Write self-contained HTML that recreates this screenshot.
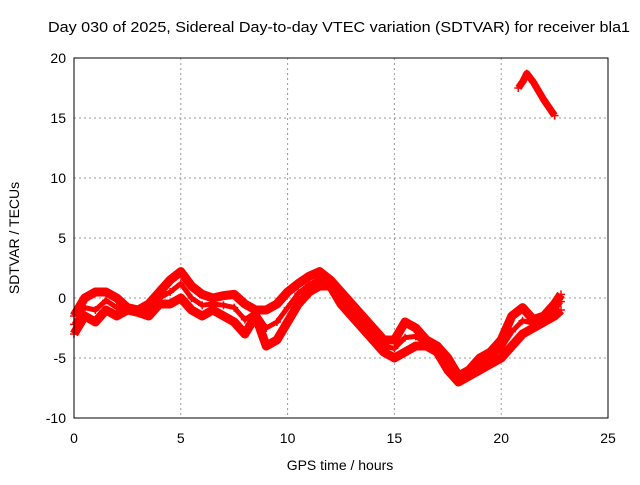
<!DOCTYPE html>
<html><head><meta charset="utf-8"><style>
body{margin:0;background:#fff}
svg text{font-family:"Liberation Sans",sans-serif;font-size:14px;fill:#000}
</style></head><body>
<svg id="c" width="640" height="480">
<text x="339" y="32" text-anchor="middle" textLength="582" lengthAdjust="spacingAndGlyphs" style="font-size:15px">Day 030 of 2025, Sidereal Day-to-day VTEC variation (SDTVAR) for receiver bla1</text>
<text x="340" y="470" text-anchor="middle">GPS time / hours</text>
<text transform="translate(19,238) rotate(-90)" text-anchor="middle">SDTVAR / TECUs</text>
<g id="grid"></g><g id="ticks"></g><g id="data"></g>
<rect x="74" y="58" width="534" height="360" fill="none" stroke="#000"/>
</svg>
<script>
const xTicks=[0,5,10,15,20,25];
const yTicks=[-10,-5,0,5,10,15,20];
const tA=[0,0.5,1,1.5,2,2.5,3,3.5,4,4.5,5,5.5,6,6.5,7,7.5,8,8.5,9,9.5,10,10.5,11,11.5,12,12.5,13,13.5,14,14.5,15,15.5,16,16.5,17,17.5,18,18.5,19,19.5,20,20.5,21,21.5,22,22.5,22.8];
const vA=[-1.5,0,0.5,0.5,0,-0.8,-1,-0.5,0.5,1.5,2.2,1,0.3,0,0.2,0.3,-0.5,-1,-1,-0.5,0.5,1.2,1.8,2.2,1.5,0.5,-0.5,-1.5,-2.5,-3.5,-3.5,-2,-2.5,-3.5,-4,-5,-6.5,-6,-5,-4.5,-3.5,-1.5,-0.8,-1.8,-1.5,-0.5,0.3];
const vB=[-3,-1.5,-2,-1,-1.5,-1,-1.2,-1.5,-0.5,-0.5,0,-1,-1.5,-1,-1.5,-2,-3,-1.5,-4,-3.5,-2,-0.5,0.5,1,1,-0.5,-1.5,-2.5,-3.5,-4.5,-5,-4.5,-4,-4,-4.5,-6,-7,-6.5,-6,-5.5,-5,-4,-3,-2.5,-2,-1.5,-1];
const vM=[-2.2,-0.8,-1,-0.2,-0.8,-0.9,-1.1,-1,0,0.5,1.2,0,-0.6,-0.5,-0.6,-0.8,-1.8,-1.2,-2.5,-2,-0.8,0.4,1.1,1.6,1.2,0,-1,-2,-3,-4,-4.2,-3.3,-3.2,-3.8,-4.2,-5.5,-6.8,-6.2,-5.5,-5,-4.2,-2.8,-1.9,-2.1,-1.8,-1,-0.3];
const tC=[20.8,21,21.2,21.5,22,22.5];
const vC=[17.5,18,18.7,18,16.5,15.2];
const X=t=>74+t*534/25, Y=v=>298-v*12;
const NS="http://www.w3.org/2000/svg";
const g=document.getElementById('grid'),tk=document.getElementById('ticks'),d=document.getElementById('data');
function el(n,a,p){const e=document.createElementNS(NS,n);for(const k in a)e.setAttribute(k,a[k]);p.appendChild(e);return e;}
xTicks.forEach(t=>{
 if(t>0&&t<25){const l=el('line',{x1:X(t),x2:X(t),y1:58,y2:418,stroke:'#999','stroke-dasharray':'2,3'},g);
 
 }
 const s=el('text',{x:X(t),y:443,'text-anchor':'middle'},tk);s.textContent=t;
 
 
});
yTicks.forEach(v=>{
 if(v>-10&&v<20){const l=el('line',{x1:74,x2:608,y1:Y(v),y2:Y(v),stroke:'#999','stroke-dasharray':'2,3'},g);
 
 }
 const s=el('text',{x:66,y:Y(v)+5,'text-anchor':'end'},tk);s.textContent=v;
 
 
});
function series(ts,vs,name,w){
 const p=el('polyline',{points:ts.map((t,i)=>X(t)+','+Y(vs[i])).join(' '),fill:'none',stroke:'#f00','stroke-width':w,'stroke-linejoin':'round'},d);
 
 
 ts.forEach((t,i)=>{const x=X(t),y=Y(vs[i]);
  const m=el('path',{d:`M${x-4},${y}h8M${x},${y-4}v8`,stroke:'#f00','stroke-width':1.5},d);
  
  });
}
series(tA,vA,'track-upper',9);
series(tA,vB,'track-lower',9);
series(tA,vM,'track-middle',5);
series(tC,vC,'track-outlier',7);
</script>
</body></html>
